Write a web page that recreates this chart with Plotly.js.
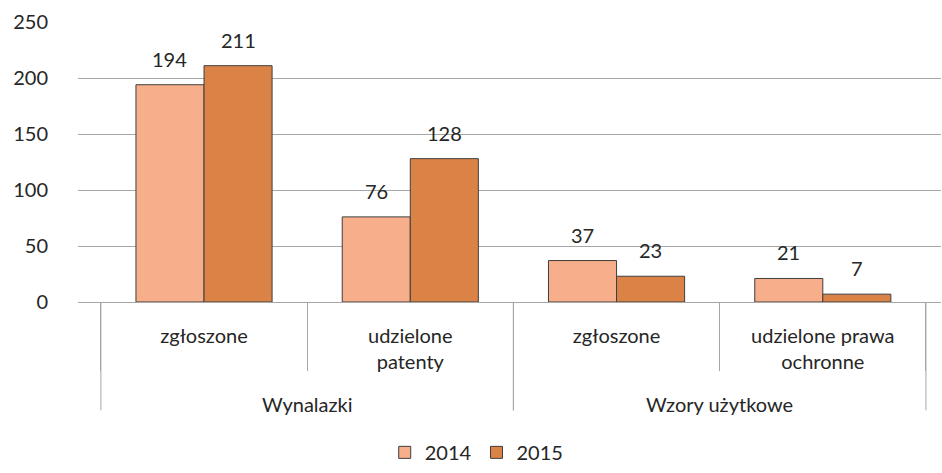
<!DOCTYPE html>
<html>
<head>
<meta charset="utf-8">
<script src="https://cdn.plot.ly/plotly-3.0.1.min.js"></script>
<style>html,body{margin:0;padding:0;background:#fff;}#chart{width:942px;height:473px;}</style>
</head>
<body>
<div id="chart"></div>
<script>
// Data
const groups = ["Wynalazki", "Wynalazki", "Wzory użytkowe", "Wzory użytkowe"];
const categories = ["zgłoszone", "udzielone<br>patenty", "zgłoszone", "udzielone prawa<br>ochronne"];
const series2014 = [194, 76, 37, 21];
const series2015 = [211, 128, 23, 7];
const seriesNames = ["2014", "2015"];
const yTicks = [0, 50, 100, 150, 200, 250];

const FONT = "Lato, 'Open Sans', sans-serif";
const TXT = "#262626";
const GRID = "#A6A6A6";
const colors = ["#F7AE8A", "#DB8347"];
const bargap = 0.34;

// category slots (index positions on the axis)
const slots = categories.map((_, i) => i);
const boundaries = categories.map((_, i) => i - 0.5).concat([categories.length - 0.5]);
const allSeries = [series2014, series2015];

const traces = allSeries.map((vals, k) => ({
  type: "bar",
  name: seriesNames[k],
  x: slots,
  y: vals,
  marker: {color: colors[k], line: {color: "#3F3F3F", width: 1}},
  hoverinfo: "none"
}));

// value labels placed above each bar (offset like Excel data labels)
const nS = allSeries.length;
const barW = (1 - bargap) / nS;
const annotations = [];
allSeries.forEach((vals, k) => {
  vals.forEach((v, i) => {
    annotations.push({
      x: i - (1 - bargap) / 2 + barW * (k + 0.5),
      y: v,
      xref: "x", yref: "y",
      text: String(v),
      showarrow: false,
      yanchor: "bottom",
      yshift: 12,
      font: {family: FONT, size: 20, color: TXT}
    });
  });
});

// outer group labels and dividers
const shapes = [];
const groupNames = [];
groups.forEach((g, i) => { if (i === 0 || g !== groups[i - 1]) groupNames.push(g); });
groupNames.forEach(g => {
  const idx = [];
  groups.forEach((gg, i) => { if (gg === g) idx.push(i); });
  const lo = Math.min(...idx), hi = Math.max(...idx);
  annotations.push({
    x: (lo + hi) / 2, y: -0.366, xref: "x", yref: "paper",
    text: g, showarrow: false, yanchor: "middle",
    font: {family: FONT, size: 20, color: TXT}
  });
  [lo - 0.5, hi + 0.5].forEach(b => {
    shapes.push({
      type: "line", xref: "x", yref: "paper",
      x0: b, x1: b, y0: 0, y1: -0.387,
      line: {color: GRID, width: 1}
    });
  });
});

const layout = {
  width: 942, height: 473,
  margin: {l: 78, r: 1, t: 22, b: 164},
  paper_bgcolor: "#fff", plot_bgcolor: "#fff",
  barmode: "group",
  bargap: bargap,
  bargroupgap: 0,
  font: {family: FONT, size: 20, color: TXT},
  showlegend: true,
  legend: {
    orientation: "h",
    x: 0.462, xanchor: "center",
    y: -0.537, yanchor: "middle",
    font: {family: FONT, size: 20, color: TXT},
    itemwidth: 30,
    traceorder: "normal"
  },
  xaxis: {
    type: "linear",
    range: [-0.611, 3.573],
    tickmode: "array",
    tickvals: slots,
    ticktext: categories,
    showline: true, linecolor: GRID, linewidth: 1,
    showgrid: false, zeroline: false,
    ticks: "",
    minor: {tickmode: "array", tickvals: boundaries, ticks: "outside", ticklen: 68, tickcolor: GRID, tickwidth: 1, showgrid: false},
    ticklabelstandoff: 16,
    tickfont: {family: FONT, size: 20, color: TXT}
  },
  yaxis: {
    range: [0, 250],
    tickvals: yTicks,
    showgrid: true, gridcolor: GRID, gridwidth: 1,
    zeroline: false, showline: false,
    ticks: "",
    ticklabelstandoff: 29,
    tickfont: {family: FONT, size: 20, color: TXT}
  },
  shapes: shapes,
  annotations: annotations
};

Plotly.newPlot("chart", traces, layout, {displayModeBar: false, staticPlot: true});
</script>
</body>
</html>
